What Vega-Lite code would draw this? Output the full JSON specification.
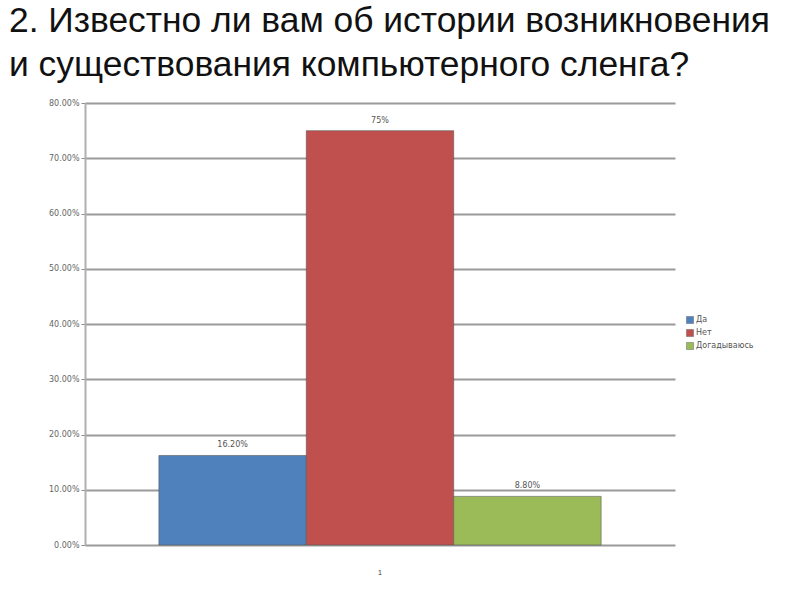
{
  "$schema": "https://vega.github.io/schema/vega-lite/v6.json",
  "width": 590,
  "height": 442,
  "autosize": "none",
  "padding": {"left": 85, "top": 103, "right": 125, "bottom": 55},
  "background": "white",
  "config": {"view": {"stroke": null}},
  "title": {
    "text": ["2. Известно ли вам об истории возникновения", "и существования компьютерного сленга?"],
    "anchor": "start",
    "frame": "group",
    "dx": -76,
    "offset": 16,
    "font": "Liberation Sans",
    "fontSize": 35.4,
    "fontWeight": "normal",
    "color": "#111111",
    "lineHeight": 44
  },
  "data": {
    "values": [
      {"group": "1", "answer": "Да", "share": 0.162, "label": "16.20%"},
      {"group": "1", "answer": "Нет", "share": 0.75, "label": "75%"},
      {"group": "1", "answer": "Догадываюсь", "share": 0.088, "label": "8.80%"}
    ]
  },
  "encoding": {
    "x": {
      "field": "group",
      "type": "nominal",
      "scale": {"paddingInner": 0, "paddingOuter": 0.167},
      "axis": {"title": null, "ticks": false, "domain": false, "labelAngle": 0, "labelPadding": 23, "labelFontSize": 7, "labelColor": "#333", "labelFont": "Liberation Sans"}
    },
    "xOffset": {"field": "answer", "type": "nominal", "sort": ["Да", "Нет", "Догадываюсь"], "scale": {"paddingInner": 0, "paddingOuter": 0}},
    "y": {
      "field": "share",
      "type": "quantitative",
      "scale": {"domain": [0, 0.8], "nice": false},
      "axis": {
        "title": null,
        "format": ".2%",
        "values": [0, 0.1, 0.2, 0.3, 0.4, 0.5, 0.6, 0.7, 0.8],
        "labelFontSize": 8,
        "labelColor": "#666666",
        "labelFont": "DejaVu Sans",
        "gridColor": "#9a9a9a",
        "gridWidth": 1.8,
        "domainColor": "#b0b0b0",
        "domainWidth": 2,
        "tickColor": "#8c8c8c",
        "tickSize": 4,
        "labelPadding": 2
      }
    }
  },
  "layer": [
    {
      "mark": {"type": "bar", "stroke": "#555555", "strokeWidth": 0.8, "strokeOpacity": 0.7},
      "encoding": {
        "color": {
          "field": "answer",
          "type": "nominal",
          "sort": ["Да", "Нет", "Догадываюсь"],
          "scale": {"domain": ["Да", "Нет", "Догадываюсь"], "range": ["#4F81BD", "#C0504D", "#9BBB59"]},
          "legend": {
            "title": null,
            "orient": "none",
            "legendX": 601,
            "legendY": 213,
            "symbolType": "square",
            "symbolSize": 50,
            "symbolStrokeColor": "#666",
            "symbolStrokeWidth": 0.5,
            "labelFontSize": 8,
            "labelFont": "DejaVu Sans",
            "labelColor": "#555",
            "rowPadding": 3,
            "labelOffset": 2
          }
        }
      }
    },
    {
      "mark": {"type": "text", "dy": -6, "fontSize": 8, "font": "DejaVu Sans", "color": "#555", "baseline": "bottom"},
      "encoding": {"text": {"field": "label"}}
    }
  ]
}
